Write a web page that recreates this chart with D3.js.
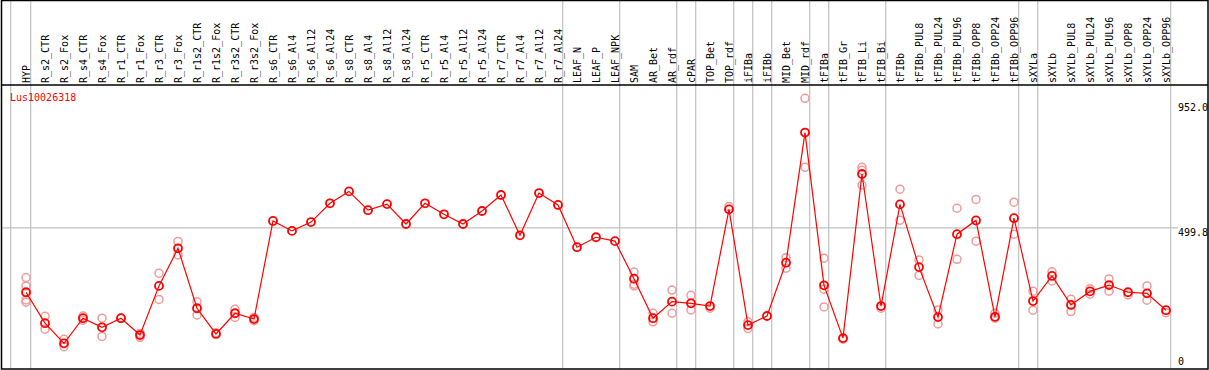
<!DOCTYPE html>
<html>
<head>
<meta charset="utf-8">
<script src="https://cdn.jsdelivr.net/npm/d3@7"></script>
<style>
  body { margin: 0; background: #fff; }
  svg { display: block; }
  text { font-family: "DejaVu Sans Mono", monospace; font-size: 10px; }
</style>
</head>
<body>
<div id="vis"></div>
<script>

const gene = "Lus10026318"

const samples = ["HYP","R_s2_CTR","R_s2_Fox","R_s4_CTR","R_s4_Fox","R_r1_CTR","R_r1_Fox","R_r3_CTR","R_r3_Fox",
  "R_r1s2_CTR","R_r1s2_Fox","R_r3s2_CTR","R_r3s2_Fox","R_s6_CTR","R_s6_Al4","R_s6_Al12","R_s6_Al24",
  "R_s8_CTR","R_s8_Al4","R_s8_Al12","R_s8_Al24","R_r5_CTR","R_r5_Al4","R_r5_Al12","R_r5_Al24",
  "R_r7_CTR","R_r7_Al4","R_r7_Al12","R_r7_Al24","LEAF_N","LEAF_P","LEAF_NPK","SAM","AR_Bet","AR_rdf",
  "cPAR","TOP_Bet","TOP_rdf","iFIBa","iFIBb","MID_Bet","MID_rdf","tFIBa","tFIB_Gr","tFIB_Li","tFIB_Bi",
  "tFIBb","tFIBb_PUL8","tFIBb_PUL24","tFIBb_PUL96","tFIBb_OPP8","tFIBb_OPP24","tFIBb_OPP96",
  "sXYLa","sXYLb","sXYLb_PUL8","sXYLb_PUL24","sXYLb_PUL96","sXYLb_OPP8","sXYLb_OPP24","sXYLb_OPP96"]

// mean expression per sample
const means = [267,155,82,173,140,173,112,290,426,209,116,191,170,525,489,521,589,632,564,586,514,
  589,549,514,561,619,473,626,583,430,466,452,316,173,233,227,217,567,148,181,374,845,292,101,695,217,
  585,358,177,477,527,178,535,235,326,221,270,293,267,263,202]

// replicate values (light circles)
const reps = [
  [320,290,239,231],[180,133],[97,70],[181,166],[173,107],[173],[118,104],[336,241],[451,402],
  [233,185],[120],[205,176],[176,164],[],[],[],[],[],[],[],[],[],[],[],[],[],[],[],[],[],[],[],
  [340,296,290],[191,160],[275,191],[256,203],[209],[577],[160,136],[],[392,354],[969,719],
  [390,278,214],[97],[719,709,655],[209],[640,528],[384,328],[203,152],[571,386],[603,452],[191,173],
  [593,477],[271,202],[341,308],[242,197],[280,260],[315,271],[257],[290,238],[193]
]

// index of last sample in each group (a grey line goes after it)
const groupEnds = [0,28,31,34,35,37,38,39,41,42,45,52,53,60]

const yTicks = [952.0, 499.8, 0]
const yGrid = [499.8]

const W = 1209, H = 370
const svg = d3.select("#vis").append("svg").attr("width", W).attr("height", H)

const x = d3.scaleLinear().domain([0, samples.length - 1]).range([26, 1166])
const y = d3.scaleLinear().domain([0, 952]).range([366, 103])
const step = x(1) - x(0)

// group separators
const seps = [x(0) - step + 3.7].concat(groupEnds.map(i => x(i) + 4.7))
svg.selectAll(".sep").data(seps).enter().append("line")
  .attr("x1", d => d).attr("x2", d => d)
  .attr("y1", 0).attr("y2", 369)
  .attr("stroke", "#c0c0c0").attr("stroke-width", 1.2)

svg.selectAll(".grid").data(yGrid).enter().append("line")
  .attr("x1", 2).attr("x2", 1178)
  .attr("y1", d => y(d)).attr("y2", d => y(d))
  .attr("stroke", "#c0c0c0").attr("stroke-width", 1.2)

// frame + header line
svg.append("rect").attr("x", 1.5).attr("y", 0.5).attr("width", 1206.5).attr("height", 368.5)
  .attr("fill", "none").attr("stroke", "#000").attr("stroke-width", 1.5)
svg.append("line").attr("x1", 1).attr("x2", 1208).attr("y1", 85).attr("y2", 85)
  .attr("stroke", "#000").attr("stroke-width", 1.5)

// column labels
svg.selectAll(".lab").data(samples).enter().append("text")
  .attr("transform", (d, i) => "translate(" + (x(i) + 3.6) + ",83) rotate(-90)")
  .attr("fill", "#000")
  .text(d => d)

svg.append("text").attr("x", 10).attr("y", 100.5).attr("fill", "red").text(gene)

svg.selectAll(".tick").data(yTicks).enter().append("text")
  .attr("x", 1178)
  .attr("y", d => Math.min(y(d) + 7.8, 365))
  .attr("fill", "#000")
  .text(d => d === 0 ? "0" : d.toFixed(1))

// replicates
const repPts = []
reps.forEach((r, i) => r.forEach(v => repPts.push({i: i, v: v})))
svg.selectAll(".rep").data(repPts).enter().append("circle")
  .attr("cx", d => x(d.i)).attr("cy", d => y(d.v)).attr("r", 4)
  .attr("fill", "none").attr("stroke", "#f09a9a").attr("stroke-width", 1.5)

const line = d3.line().x((d, i) => x(i)).y(d => y(d))
svg.append("path").datum(means).attr("d", line)
  .attr("fill", "none").attr("stroke", "red").attr("stroke-width", 1.2)

svg.selectAll(".mean").data(means).enter().append("circle")
  .attr("cx", (d, i) => x(i)).attr("cy", d => y(d)).attr("r", 4)
  .attr("fill", "none").attr("stroke", "red").attr("stroke-width", 1.8)

</script>
</body>
</html>
